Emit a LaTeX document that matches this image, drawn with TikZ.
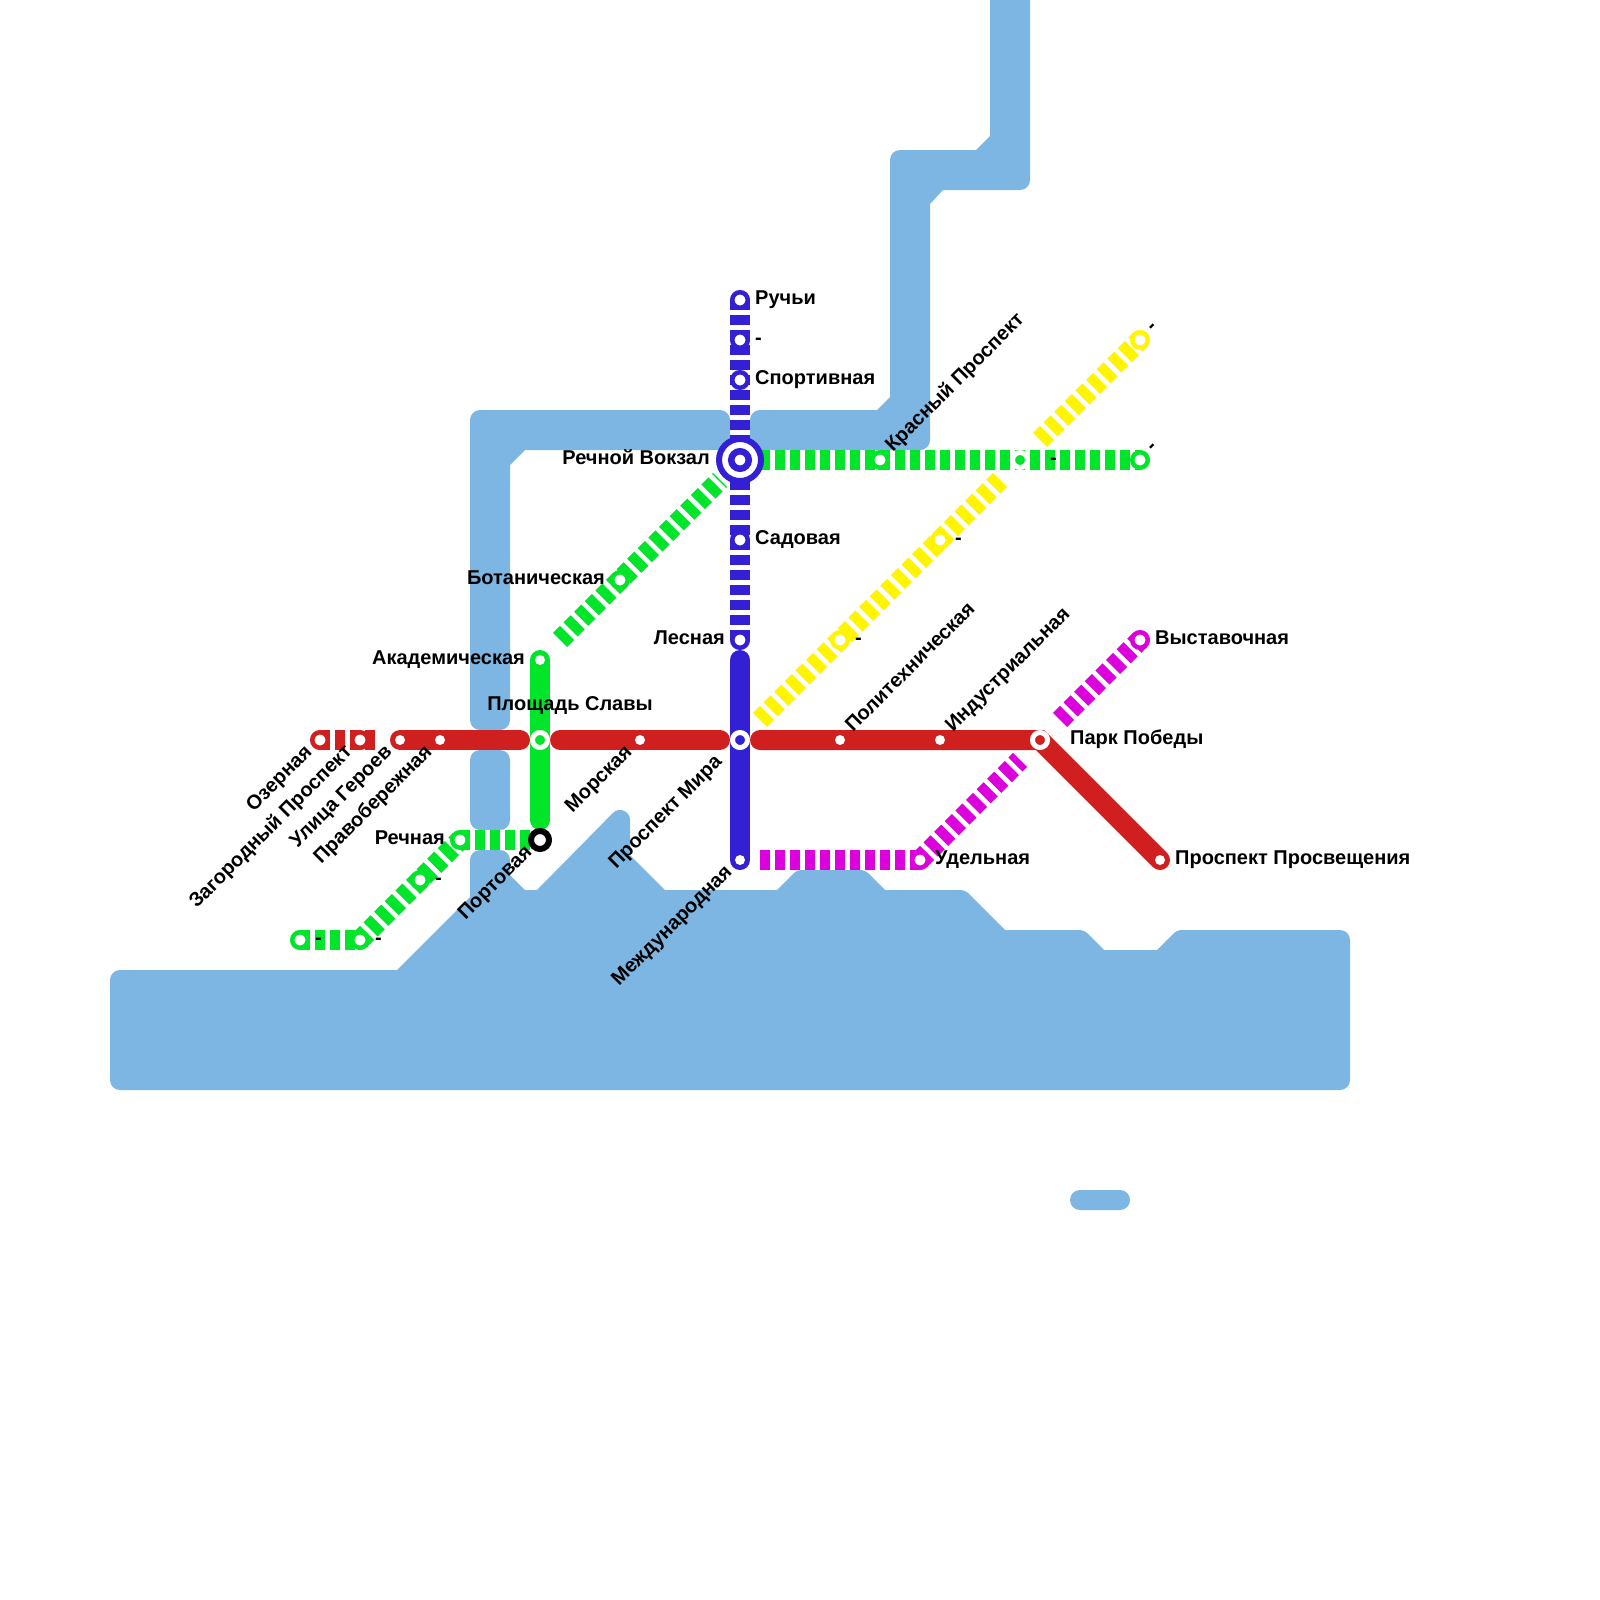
\documentclass[tikz,border=0pt]{standalone}
\usepackage{fontspec}
\setmainfont{Liberation Sans}
\usepackage{tikz}
\usetikzlibrary{backgrounds}
\definecolor{waterblue}{HTML}{7DB6E3}
\definecolor{linered}{HTML}{D01F1F}
\definecolor{lineblue}{HTML}{3420D4}
\definecolor{linegreen}{HTML}{00E52A}
\definecolor{lineyellow}{HTML}{FFF500}
\definecolor{linemagenta}{HTML}{DB00DC}
\begin{document}
\begin{tikzpicture}[
  x=1pt, y=-1pt,
  water/.style={fill=waterblue},
  solidline/.style={line width=20pt, line cap=round, draw=#1},
  dashline/.style={line width=20pt, draw=#1, dash pattern=on 10pt off 5pt},
  ringst/.style={circle, inner sep=0pt, outer sep=0pt, minimum size=15.5pt,
                 line width=4.5pt, draw=#1, fill=white},
  hubst/.style={circle, inner sep=0pt, outer sep=0pt, minimum size=15pt,
                line width=5pt, draw=white, fill=#1},
  dotst/.style={circle, inner sep=0pt, outer sep=0pt, minimum size=10pt, fill=white},
  lab/.style={inner sep=0pt, text height=1.02em, text depth=0.2em,
              font=\fontsize{20}{22}\selectfont\bfseries},
  labup/.style={lab, rotate=45, anchor=west},
  labdn/.style={lab, rotate=45, anchor=east},
]
  \useasboundingbox (0,0) rectangle (1600,1600);

  % stations
  \node[ringst=linered] (ozer) at (320,740) {};
  \node[ringst=linered] (zagor) at (360,740) {};
  \node[dotst] (geroev) at (400,740) {};
  \node[dotst] (pravob) at (440,740) {};
  \node[hubst=linegreen] (slavy) at (540,740) {};
  \node[dotst] (morsk) at (640,740) {};
  \node[hubst=lineblue] (mira) at (740,740) {};
  \node[dotst] (polit) at (840,740) {};
  \node[dotst] (indus) at (940,740) {};
  \node[hubst=linered] (pobedy) at (1040,740) {};
  \node[dotst] (prosv) at (1160,860) {};

  \node[ringst=lineblue] (ruchyi) at (740,300) {};
  \node[ringst=lineblue] (bluedash) at (740,340) {};
  \node[ringst=lineblue] (sport) at (740,380) {};
  \node[circle, inner sep=0pt, outer sep=0pt, minimum size=42pt, line width=6pt,
        draw=lineblue, fill=white] (vokzal) at (740,460) {};
  \node[circle, inner sep=0pt, outer sep=0pt, minimum size=17.5pt, line width=6.5pt,
        draw=lineblue, fill=white] (vokzalin) at (vokzal) {};
  \node[ringst=lineblue] (sad) at (740,540) {};
  \node[ringst=lineblue] (les) at (740,640) {};
  \node[dotst] (mezhd) at (740,860) {};

  \node[ringst=linegreen] (krasn) at (880,460) {};
  \node[hubst=linegreen] (greendash) at (1020,460) {};
  \node[ringst=linegreen] (greenend) at (1140,460) {};
  \node[ringst=linegreen] (botan) at (620,580) {};
  \node[dotst] (akad) at (540,660) {};
  \node[ringst=linegreen] (rechn) at (460,840) {};
  \node[circle, inner sep=0pt, outer sep=0pt, minimum size=18pt, line width=6pt,
        draw=black, fill=white] (port) at (540,840) {};
  \node[ringst=linegreen] (gdashb) at (420,880) {};
  \node[ringst=linegreen] (gdashc) at (360,940) {};
  \node[ringst=linegreen] (gdashd) at (300,940) {};

  \node[ringst=lineyellow] (ydasha) at (840,640) {};
  \node[ringst=lineyellow] (ydashb) at (940,540) {};
  \node[ringst=lineyellow] (ydashc) at (1140,340) {};

  \node[ringst=linemagenta] (udel) at (920,860) {};
  \node[ringst=linemagenta] (vyst) at (1140,640) {};

  \coordinate (redgapa) at (375,740);
  \coordinate (redl) at (520,740);
  \coordinate (redm) at (560,740);
  \coordinate (redn) at (720,740);
  \coordinate (redo) at (760,740);
  \coordinate (bluetop) at (740,660);
  \coordinate (greenbot) at (540,820);
  \coordinate (greenst) at (760,460);
  \coordinate (greenda) at (720,480);
  \coordinate (greendb) at (560,640);
  \coordinate (ylwa) at (760,720);
  \coordinate (ylwb) at (1000,480);
  \coordinate (ylwc) at (1040,440);
  \coordinate (maga) at (760,860);
  \coordinate (magb) at (1020,760);
  \coordinate (magc) at (1060,720);

  \begin{scope}[on background layer]
    \fill[water] [rounded corners=10pt] (110,970) [sharp corners] -- (397,970) -- (470,897)
      [rounded corners=10pt] -- (470,850) -- (510,850) [sharp corners] -- (510,875) -- (525,890)
      -- (537,890) -- (612.93,812.93) .. controls (619.2,806.6) and (630,811.1) .. (630,820)
      -- (630,855) -- (665,890)
      -- (777,890) [rounded corners=4pt] -- (797,870) -- (865,870) [sharp corners] -- (885,890)
      [rounded corners=4pt] -- (965,890) [sharp corners] -- (1005,930)
      [rounded corners=4pt] -- (1084,930) [sharp corners] -- (1104,950) -- (1157,950)
      [rounded corners=4pt] -- (1177,930) [rounded corners=10pt] -- (1350,930)
      -- (1350,1090) -- (110,1090) -- cycle;
    \fill[water] [rounded corners=10pt] (470,730) -- (470,410) -- (730,410) -- (730,450)
      [sharp corners] -- (525,450) -- (510,465) [rounded corners=10pt] -- (510,730) -- cycle;
    \fill[water] [rounded corners=10pt] (750,450) -- (750,410) [sharp corners] -- (877,410)
      -- (890,397) [rounded corners=10pt] -- (890,150) [sharp corners] -- (976,150)
      -- (990,136) -- (990,0) -- (1030,0) [rounded corners=10pt] -- (1030,190) [sharp corners]
      -- (943,190) -- (930,204) [rounded corners=10pt] -- (930,450) -- cycle;
    \fill[water, rounded corners=10pt] (470,750) rectangle (510,830);
    \fill[water, rounded corners=10pt] (1070,1190) rectangle (1130,1210);

    \draw[dashline=linered] (ozer.center) -- (redgapa);
    \draw[solidline=linered] (geroev.center) -- (redl);
    \draw[solidline=linered] (redm) -- (redn);
    \draw[solidline=linered] (redo) -- (pobedy.center) -- (prosv.center);

    \draw[dashline=lineblue] (ruchyi.center) -- (les.center);
    \draw[solidline=lineblue] (bluetop) -- (mezhd.center);

    \draw[solidline=linegreen] (akad.center) -- (greenbot);
    \draw[dashline=linegreen] (greenst) -- (greenend.center);
    \draw[dashline=linegreen] (greendb) -- (greenda);
    \draw[dashline=linegreen] (rechn.center) -- (port.center);
    \draw[dashline=linegreen] (gdashd.center) -- (gdashc.center);
    \draw[dashline=linegreen] (gdashc.center) -- (rechn.center);

    \draw[dashline=lineyellow] (ylwa) -- (ylwb);
    \draw[dashline=lineyellow] (ylwc) -- (ydashc.center);

    \draw[dashline=linemagenta] (maga) -- (udel.center);
    \draw[dashline=linemagenta] (udel.center) -- (magb);
    \draw[dashline=linemagenta] (magc) -- (vyst.center);
  \end{scope}

  % labels
  \node[labdn] (lozer) at ([shift={(-10,10)}]ozer.center) {Озерная};
  \node[labdn] (lzagor) at ([shift={(-10,10)}]zagor.center) {Загородный Проспект};
  \node[labdn] (lgeroev) at ([shift={(-10,10)}]geroev.center) {Улица Героев};
  \node[labdn] (lpravob) at ([shift={(-10,10)}]pravob.center) {Правобережная};
  \node[labdn] (lmorsk) at ([shift={(-10,10)}]morsk.center) {Морская};
  \node[labdn] (lmira) at ([shift={(-20,20)}]mira.center) {Проспект Мира};
  \node[labdn] (lmezhd) at ([shift={(-10,10)}]mezhd.center) {Международная};
  \node[labdn] (lport) at ([shift={(-10,10)}]port.center) {Портовая};
  \node[labup] (lpolit) at ([shift={(10,-10)}]polit.center) {Политехническая};
  \node[labup] (lindus) at ([shift={(10,-10)}]indus.center) {Индустриальная};
  \node[labup] (lkrasn) at ([shift={(10,-10)}]krasn.center) {Красный Проспект};
  \node[labup] (lydashc) at ([shift={(10,-10)}]ydashc.center) {-};
  \node[labup] (lgreenend) at ([shift={(10,-10)}]greenend.center) {-};

  \node[lab, anchor=west] (lruchyi) at ([shift={(15,0)}]ruchyi.center) {Ручьи};
  \node[lab, anchor=west] (lbluedash) at ([shift={(15,0)}]bluedash.center) {-};
  \node[lab, anchor=west] (lsport) at ([shift={(15,0)}]sport.center) {Спортивная};
  \node[lab, anchor=west] (lsad) at ([shift={(15,0)}]sad.center) {Садовая};
  \node[lab, anchor=east] (lles) at ([shift={(-15,0)}]les.center) {Лесная};
  \node[lab, anchor=east] (lvokzal) at ([shift={(-30,0)}]vokzal.center) {Речной Вокзал};
  \node[lab, anchor=east] (lbotan) at ([shift={(-15,0)}]botan.center) {Ботаническая};
  \node[lab, anchor=east] (lakad) at ([shift={(-15,0)}]akad.center) {Академическая};
  \node[lab, anchor=south] (lslavy) at ([shift={(30,-27)}]slavy.center) {Площадь Славы};
  \node[lab, anchor=east] (lrechn) at ([shift={(-15,0)}]rechn.center) {Речная};
  \node[lab, anchor=west] (ludel) at ([shift={(15,0)}]udel.center) {Удельная};
  \node[lab, anchor=west] (lpobedy) at ([shift={(30,0)}]pobedy.center) {Парк Победы};
  \node[lab, anchor=west] (lprosv) at ([shift={(15,0)}]prosv.center) {Проспект Просвещения};
  \node[lab, anchor=west] (lvyst) at ([shift={(15,0)}]vyst.center) {Выставочная};
  \node[lab, anchor=west] (lgdashb) at ([shift={(15,0)}]gdashb.center) {-};
  \node[lab, anchor=west] (lgdashc) at ([shift={(15,0)}]gdashc.center) {-};
  \node[lab, anchor=west] (lgdashd) at ([shift={(15,0)}]gdashd.center) {-};
  \node[lab, anchor=west] (lgreendash) at ([shift={(30,0)}]greendash.center) {-};
  \node[lab, anchor=west] (lydasha) at ([shift={(15,0)}]ydasha.center) {-};
  \node[lab, anchor=west] (lydashb) at ([shift={(15,0)}]ydashb.center) {-};
\end{tikzpicture}
\end{document}
